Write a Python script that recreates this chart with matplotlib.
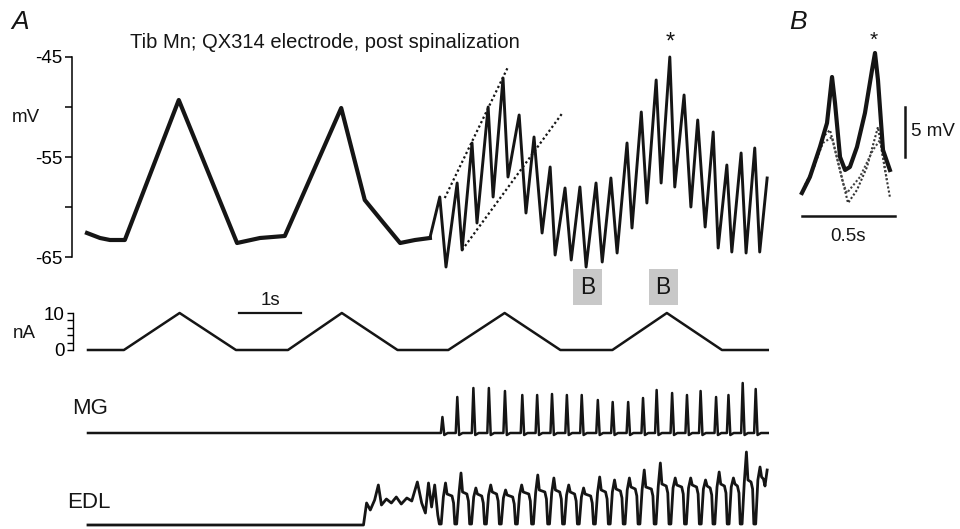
import matplotlib
matplotlib.use("Agg")
import matplotlib.pyplot as plt
import numpy as np

plt.rcParams['font.family'] = ['Liberation Sans', 'DejaVu Sans']

W, H = 960, 529
INK = '#151515'

# ---------------- data ----------------
# Panel A, membrane potential (time s, mV)
vm_slow_t = [0.00, 0.21, 0.37, 0.61, 1.48, 2.42, 2.79, 3.19, 4.10, 4.48, 4.77, 5.05, 5.29, 5.53]
vm_slow_v = [-62.6, -63.1, -63.3, -63.3, -49.3, -63.6, -63.1, -62.9, -50.1, -59.3, -61.5, -63.6, -63.3, -63.1]
vm_osc_t = [5.53, 5.69, 5.79, 5.97, 6.05, 6.21, 6.29, 6.47, 6.55, 6.71, 6.79, 6.97, 7.08, 7.21, 7.34,
            7.47, 7.55, 7.71, 7.81, 7.95, 8.05, 8.21, 8.31, 8.45, 8.55, 8.71, 8.79, 8.94, 9.03, 9.18,
            9.26, 9.40, 9.48, 9.63, 9.74, 9.85, 9.97, 10.10, 10.18, 10.32, 10.40, 10.55, 10.63, 10.77,
            10.85, 10.97]
vm_osc_v = [-63.1, -59.0, -66.0, -57.6, -64.3, -53.6, -61.6, -50.0, -59.0, -47.1, -57.0, -50.8, -60.6,
            -53.0, -62.6, -56.0, -64.8, -58.1, -65.3, -58.0, -66.0, -57.6, -65.5, -57.1, -64.6, -53.6,
            -62.1, -50.5, -59.6, -47.3, -57.6, -45.0, -58.0, -48.8, -60.0, -51.3, -62.0, -52.5, -64.1,
            -55.8, -64.5, -54.6, -64.6, -54.1, -64.5, -57.1]
guide1_t = [5.77, 6.79]
guide1_v = [-59.1, -46.0]
guide2_t = [6.05, 7.68]
guide2_v = [-64.3, -50.5]
star_t, star_v = 9.40, -44.2
b_box_t = [8.07, 9.29]
vm_ticks = [-65, -60, -55, -50, -45]
vm_ticklabels = ['-65', '', '-55', '', '-45']

# injected current (s, nA)
cur_t = [0.00, 0.58, 1.48, 2.39, 3.23, 4.10, 5.00, 5.82, 6.73, 7.63, 8.47, 9.35, 10.24, 10.98]
cur_v = [0, 0, 10, 0, 0, 10, 0, 0, 10, 0, 0, 10, 0, 0]
cur_ticks = [0, 2, 4, 6, 8, 10]
cur_ticklabels = ['0', '', '', '', '', '10']
bar_1s = [2.44, 3.44]

# MG EMG spikes (s, a.u.)
mg_spike_t = [5.73, 5.97, 6.23, 6.48, 6.74, 7.02, 7.26, 7.50, 7.74, 7.98, 8.24, 8.48, 8.73, 8.97,
              9.19, 9.44, 9.68, 9.90, 10.15, 10.35, 10.58, 10.79]
mg_spike_h = [16, 36, 45, 45, 42, 38, 38, 39, 38, 38, 33, 31, 31, 35, 43, 40, 38, 42, 36, 38, 50, 44]

# EDL EMG (s, a.u.)
edl_pre_t = [0.00, 4.45, 4.50, 4.56, 4.63, 4.69, 4.74, 4.82, 4.90, 4.98, 5.06, 5.15, 5.23, 5.32,
             5.39, 5.45, 5.50, 5.55, 5.60, 5.65]
edl_pre_v = [0, 0, 22, 15, 25, 40, 20, 26, 22, 28, 21, 27, 24, 43, 22, 12, 42, 18, 40, 10]
edl_trough_t = [5.69, 5.94, 6.18, 6.42, 6.66, 6.92, 7.18, 7.44, 7.68, 7.92, 8.18, 8.42, 8.66, 8.90,
                9.16, 9.40, 9.65, 9.89, 10.11, 10.34, 10.55, 10.77]
edl_peak = [42, 52, 37, 40, 35, 40, 50, 47, 40, 37, 48, 45, 47, 55, 62, 47, 47, 45, 53, 47, 73, 58]
edl_plateau = [28, 30, 28, 30, 27, 30, 32, 32, 30, 28, 32, 33, 35, 35, 38, 37, 37, 36, 38, 38, 42, 45]
edl_end_t = 10.97

# Panel B, expanded cycles (s, mV)
b_main_t = [0.005, 0.048, 0.102, 0.140, 0.167, 0.183, 0.210, 0.237, 0.263, 0.301, 0.344, 0.382,
            0.398, 0.414, 0.441, 0.478]
b_main_v = [-58.6, -57.0, -54.0, -51.6, -47.0, -49.6, -55.0, -56.3, -56.0, -54.0, -50.6, -46.3,
            -44.6, -47.3, -54.3, -56.3]
b_dot1_t = [0.022, 0.075, 0.118, 0.156, 0.210, 0.253, 0.301, 0.355, 0.414, 0.452, 0.478]
b_dot1_v = [-57.8, -55.8, -53.0, -52.3, -56.3, -59.6, -58.3, -56.0, -52.0, -56.3, -59.0]
b_dot2_t = [0.038, 0.118, 0.167, 0.226, 0.247, 0.317, 0.387, 0.425, 0.462]
b_dot2_v = [-57.5, -53.6, -53.0, -57.6, -58.6, -57.0, -54.3, -53.3, -57.3]
b_star = (0.392, -43.9)
b_vbar = [-50, -55]
b_vbar_t = 0.559
b_hbar = [0.005, 0.505]
b_hbar_v = -60.9

# ---------------- layout ----------------
fig = plt.figure(figsize=(W / 100, H / 100), dpi=100)


def box(l, r, t, b):
    return [l / W, 1 - b / H, (r - l) / W, (b - t) / H]


def fx(x, y):
    return (x / W, 1 - y / H)


def clean(ax, left=False):
    for s in ['top', 'right', 'bottom']:
        ax.spines[s].set_visible(False)
    ax.spines['left'].set_visible(left)
    ax.set_xticks([])
    if not left:
        ax.set_yticks([])
    ax.patch.set_alpha(0)


XL = (-0.242, 11.016)
FS = 13.5

# A: membrane potential
axA = fig.add_axes(box(72, 770, 57, 257))
clean(axA, left=True)
axA.set_xlim(*XL)
axA.set_ylim(-65, -45)
axA.spines['left'].set_linewidth(1.1)
axA.set_yticks(vm_ticks)
axA.set_yticklabels(vm_ticklabels)
axA.tick_params(axis='y', length=5, width=1.1, pad=2, labelsize=FS)
axA.plot(vm_slow_t, vm_slow_v, color=INK, lw=3.0, solid_joinstyle='round', clip_on=False)
axA.plot(vm_osc_t, vm_osc_v, color=INK, lw=2.1, solid_joinstyle='round', clip_on=False)
axA.plot(guide1_t, guide1_v, color=INK, lw=1.6, ls=(0, (1, 1.2)), clip_on=False)
axA.plot(guide2_t, guide2_v, color=INK, lw=1.6, ls=(0, (1, 1.2)), clip_on=False)
axA.text(star_t, star_v, '*', ha='center', va='baseline', fontsize=17, color=INK)

# current
axC = fig.add_axes(box(73, 770, 313, 350))
clean(axC, left=True)
axC.set_xlim(*XL)
axC.set_ylim(0, 10)
axC.set_yticks(cur_ticks)
axC.set_yticklabels(cur_ticklabels)
axC.spines['left'].set_linewidth(1.0)
axC.tick_params(axis='y', length=4, width=1.0, pad=2, labelsize=FS)
axC.plot(cur_t, cur_v, color=INK, lw=1.8, clip_on=False)
axC.plot(bar_1s, [10, 10], color=INK, lw=1.6, clip_on=False)
axC.text(np.mean(bar_1s), 11.2, '1s', ha='center', va='bottom', fontsize=FS, color=INK)

for bt in b_box_t:
    axC.text(bt, 17, 'B', ha='center', va='center', fontsize=16.5, color=INK,
             bbox=dict(boxstyle='square,pad=0.3', fc='#c8c8c8', ec='none'))

# MG
axM = fig.add_axes(box(73, 770, 375, 445))
clean(axM)
axM.set_xlim(*XL)
axM.set_ylim(-12, 58)
mg_t, mg_v = [0.0], [0.0]
for t, h in zip(mg_spike_t, mg_spike_h):
    mg_t += [t - 0.03, t - 0.005, t + 0.025, t + 0.08]
    mg_v += [0, h, -2, 0]
mg_t.append(10.98)
mg_v.append(0)
axM.plot(mg_t, mg_v, color=INK, lw=1.8, clip_on=False)

# EDL
axE = fig.add_axes(box(73, 770, 445, 529))
clean(axE)
axE.set_xlim(*XL)
axE.set_ylim(-4, 80)
e_t, e_v = list(edl_pre_t), list(edl_pre_v)
nxt = edl_trough_t[1:] + [edl_end_t]
for i, (t0, t1) in enumerate(zip(edl_trough_t, nxt)):
    last = i == len(edl_trough_t) - 1
    e_t += [t0 - 0.015, t0 + 0.015, t0 + 0.05, t0 + 0.085, t0 + 0.11, t1 - 0.06, t1 - 0.035]
    e_v += [1, 1, edl_plateau[i], edl_peak[i], edl_plateau[i] + 3, edl_plateau[i] + 1,
            edl_plateau[i] - 6]
    if last:
        e_t.append(t1)
        e_v.append(edl_plateau[i] + 10)
axE.plot(e_t, e_v, color=INK, lw=2.0, solid_joinstyle='round', clip_on=False)

# B panel
axB = fig.add_axes(box(790, 960, 57, 257))
clean(axB)
axB.set_xlim(-0.059, 0.855)
axB.set_ylim(-65, -45)
axB.plot(b_dot1_t, b_dot1_v, color='#333333', lw=1.5, ls=(0, (1, 1)), clip_on=False)
axB.plot(b_dot2_t, b_dot2_v, color='#444444', lw=1.5, ls=(0, (1, 1)), clip_on=False)
axB.plot(b_main_t, b_main_v, color=INK, lw=3.0, solid_joinstyle='round', clip_on=False)
axB.text(*b_star, '*', ha='center', va='baseline', fontsize=15, color=INK)
axB.plot([b_vbar_t, b_vbar_t], b_vbar, color=INK, lw=1.8, clip_on=False)
axB.text(b_vbar_t + 0.035, np.mean(b_vbar), '5 mV', ha='left', va='center', fontsize=FS, color=INK)
axB.plot(b_hbar, [b_hbar_v, b_hbar_v], color=INK, lw=1.8, clip_on=False)
axB.text(np.mean(b_hbar), b_hbar_v - 1.2, '0.5s', ha='center', va='top', fontsize=FS, color=INK)

# labels
fig.text(*fx(11, 22), 'A', fontsize=19, style='italic', ha='left', va='center', color=INK)
fig.text(*fx(789, 22), 'B', fontsize=19, style='italic', ha='left', va='center', color=INK)
fig.text(*fx(325, 43), 'Tib Mn; QX314 electrode, post spinalization', fontsize=14.5,
         ha='center', va='center', color=INK)
fig.text(*fx(12, 118), 'mV', fontsize=FS, ha='left', va='center', color=INK)
fig.text(*fx(13, 333), 'nA', fontsize=FS, ha='left', va='center', color=INK)
fig.text(*fx(72, 408), 'MG', fontsize=16, ha='left', va='center', color=INK)
fig.text(*fx(67, 503), 'EDL', fontsize=16, ha='left', va='center', color=INK)

fig.savefig('out.png', dpi=100)
